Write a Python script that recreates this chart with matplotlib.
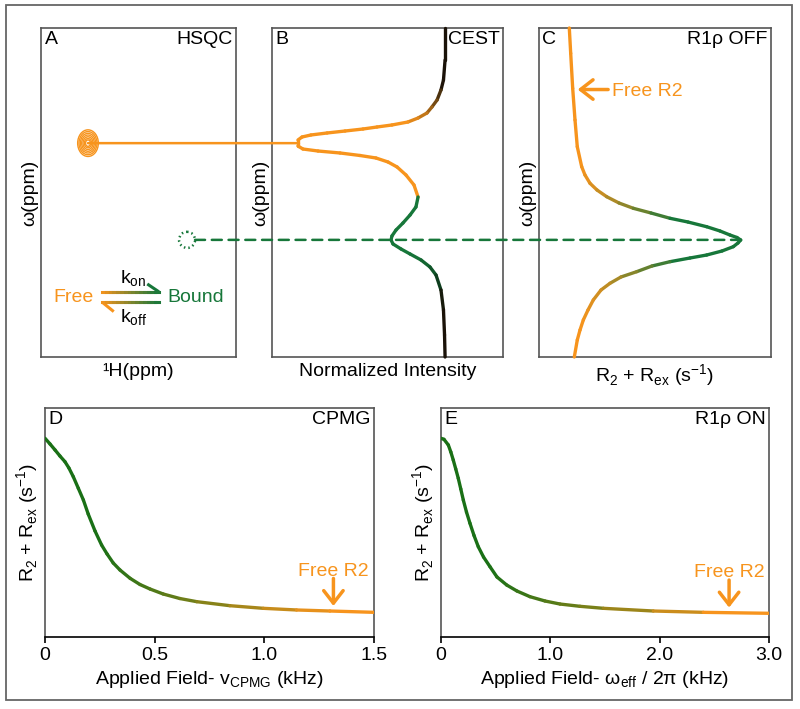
import matplotlib.pyplot as plt
import numpy as np
from matplotlib.collections import LineCollection
from matplotlib.colors import to_rgb
from matplotlib.patches import ConnectionPatch, Ellipse, Rectangle

plt.rcParams['font.family'] = ['Liberation Sans', 'DejaVu Sans']
plt.rcParams['mathtext.fontset'] = 'custom'
plt.rcParams['mathtext.rm'] = 'Liberation Sans'

ORANGE = '#f7941d'
GREEN = '#17773a'
GREEN_DISP = '#1a7016'
BLACK = '#1a1208'
FRAME = '#555555'
FS = 14

# peak positions in the HSQC (1H ppm, omega ppm), arbitrary scale
free_peak = (2.41, 3.50)
bound_peak = (7.49, 6.44)

# panel B - CEST profile (omega, normalized intensity)
cest_omega = [0.0, 0.973, 1.581, 1.884, 2.188, 2.401, 2.584, 2.736, 2.857, 2.948, 3.009, 3.070,
              3.131, 3.191, 3.252, 3.313, 3.404, 3.495, 3.587, 3.678, 3.739, 3.799, 3.875, 3.951,
              4.073, 4.225, 4.468, 4.772, 5.137, 5.441, 5.684, 5.927, 6.140, 6.322, 6.444, 6.565,
              6.717, 6.869, 7.052, 7.264, 7.508, 7.964, 8.571, 9.331, 10.0]
cest_intensity = [0.974, 0.974, 0.965, 0.951, 0.929, 0.900, 0.872, 0.822, 0.765, 0.675, 0.591, 0.512,
                  0.411, 0.310, 0.219, 0.169, 0.146, 0.146, 0.146, 0.174, 0.259, 0.383, 0.495, 0.585,
                  0.653, 0.704, 0.754, 0.799, 0.822, 0.810, 0.777, 0.737, 0.698, 0.675, 0.670, 0.681,
                  0.726, 0.777, 0.839, 0.889, 0.923, 0.951, 0.965, 0.971, 0.974]

# panel C - off-resonance R1rho profile (omega, R2 + Rex)
r1rho_off_omega = [0.0, 0.769, 1.833, 2.796, 3.608, 4.216, 4.468, 4.720, 4.924, 5.128, 5.319, 5.480,
                   5.623, 5.784, 5.897, 6.040, 6.170, 6.292, 6.368, 6.444, 6.535, 6.647, 6.778, 6.900,
                   6.991, 7.103, 7.234, 7.407, 7.568, 7.760, 7.964, 8.267, 8.571, 8.875, 9.179, 9.483,
                   10.0]
r1rho_off_rate = [6.53, 6.83, 7.26, 7.76, 8.25, 9.20, 9.91, 10.99, 12.50, 14.59, 17.24, 20.32,
                  24.14, 28.23, 32.11, 36.14, 39.01, 41.16, 42.67, 43.47, 42.88, 41.87, 39.44, 36.14,
                  32.54, 28.23, 24.35, 21.05, 17.67, 15.30, 13.36, 11.70, 10.56, 9.55, 8.84, 8.25,
                  7.61]

# panel D - CPMG dispersion (kHz, R2 + Rex)
cpmg_field = [0.0, 0.023, 0.046, 0.068, 0.091, 0.109, 0.129, 0.152, 0.175, 0.197, 0.228, 0.258,
              0.283, 0.311, 0.342, 0.388, 0.433, 0.479, 0.539, 0.615, 0.692, 0.843, 0.995, 1.147,
              1.299, 1.500]
cpmg_rate = [34.71, 33.71, 32.66, 31.62, 30.62, 29.52, 28.00, 25.97, 23.93, 21.48, 18.52, 16.07,
             14.50, 12.93, 11.70, 10.25, 9.17, 8.38, 7.51, 6.72, 6.17, 5.47, 5.01, 4.72,
             4.54, 4.31]

# panel E - on-resonance R1rho dispersion (kHz, R2 + Rex)
r1rho_on_field = [0.0, 0.027, 0.067, 0.090, 0.112, 0.135, 0.158, 0.181, 0.204, 0.233, 0.265, 0.302,
                  0.341, 0.389, 0.448, 0.512, 0.601, 0.695, 0.814, 0.951, 1.088, 1.271, 1.485, 1.942,
                  2.399, 3.000]
r1rho_on_rate = [34.71, 34.53, 33.54, 32.31, 30.92, 29.34, 27.72, 25.85, 23.93, 21.83, 19.86, 17.73,
                 15.77, 13.97, 12.28, 10.48, 9.08, 8.03, 7.04, 6.29, 5.76, 5.36, 5.01, 4.54,
                 4.31, 4.14]

cpmg_ticks = [0, 0.5, 1.0, 1.5]
cpmg_ticklabels = ['0', '0.5', '1.0', '1.5']
on_ticks = [0, 1.0, 2.0, 3.0]
on_ticklabels = ['0', '1.0', '2.0', '3.0']

free_r2_off = (8.34, 1.87)   # where the "Free R2" arrow points in panel C
free_r2_cpmg = 1.315         # field of the "Free R2" arrow in panel D
free_r2_on = 2.635           # field of the "Free R2" arrow in panel E


def blend(stops, values):
    # piecewise linear colour along a list of (value, colour) stops
    pos = [s[0] for s in stops]
    rgb = np.array([to_rgb(s[1]) for s in stops])
    return np.column_stack([np.interp(values, pos, rgb[:, k]) for k in range(3)])


def gradient_line(ax, x, y, colors, lw=2.3, clip=True, cap='round'):
    pts = np.column_stack([x, y])
    segs = np.stack([pts[:-1], pts[1:]], axis=1)
    lc = LineCollection(segs, colors=colors, linewidths=lw, capstyle=cap,
                        joinstyle='round', clip_on=clip, zorder=3)
    ax.add_collection(lc)
    return lc


def midpoints(v):
    v = np.asarray(v)
    return (v[:-1] + v[1:]) / 2


def frame(ax, color=FRAME):
    for sp in ax.spines.values():
        sp.set_color(color)
        sp.set_linewidth(1.2)


def corner_text(ax, letter, title):
    ax.annotate(letter, xy=(0, 1), xycoords='axes fraction', xytext=(2.5, -2.5),
                textcoords='offset points', ha='left', va='top', fontsize=FS)
    ax.annotate(title, xy=(1, 1), xycoords='axes fraction', xytext=(-2.5, -2.5),
                textcoords='offset points', ha='right', va='top', fontsize=FS)


fig = plt.figure(figsize=(8, 7.09), dpi=100)
W, H = 800, 709


def place(x0, x1, y0, y1):
    return fig.add_axes([x0 / W, 1 - y1 / H, (x1 - x0) / W, (y1 - y0) / H])


axA = place(41, 236, 28, 357)
axB = place(272, 503, 28, 357)
axC = place(539, 771, 28, 357)
axD = place(45, 374, 408, 637)
axE = place(441, 769, 408, 637)

for ax in (axA, axB, axC):
    ax.set_ylim(10, 0)
    ax.set_xticks([])
    ax.set_yticks([])
    frame(ax)
    ax.set_ylabel('ω(ppm)', fontsize=FS, labelpad=2)

# ---- A: HSQC
axA.set_xlim(0, 10)
for s in [1.0, 0.87, 0.74, 0.61, 0.48, 0.35, 0.24]:
    axA.add_patch(Ellipse(free_peak, 1.06 * s, 0.81 * s, fill=False, ec=ORANGE, lw=1.0))
axA.add_patch(Ellipse(bound_peak, 0.82, 0.49, fill=False, ec=GREEN, lw=1.8, ls=(0, (0.6, 1.2))))
axA.set_xlabel('¹H(ppm)', fontsize=FS, labelpad=4)
corner_text(axA, 'A', 'HSQC')

# exchange scheme Free <-> Bound
scheme_x = np.linspace(3.13, 6.05, 16)
for yy in (8.02, 8.33):
    gradient_line(axA, scheme_x, np.full_like(scheme_x, yy),
                  blend([(3.13, ORANGE), (6.05, GREEN)], midpoints(scheme_x)), lw=2.2,
                  cap='projecting')
axA.plot([6.05, 5.45], [8.02, 7.78], color=GREEN, lw=2.2, solid_capstyle='butt')
axA.plot([3.13, 3.73], [8.33, 8.62], color=ORANGE, lw=2.2, solid_capstyle='butt')
axA.text(1.69, 8.18, 'Free', color=ORANGE, fontsize=FS, ha='center', va='center')
axA.text(6.46, 8.18, 'Bound', color=GREEN, fontsize=FS, ha='left', va='center')
axA.text(4.05, 7.62, 'k$_{\\mathregular{on}}$', fontsize=FS, ha='left', va='center')
axA.text(4.05, 8.80, 'k$_{\\mathregular{off}}$', fontsize=FS, ha='left', va='center')

# ---- B: CEST
axB.set_xlim(0, 1.3)
cest_stops = [(0, BLACK), (1.7, BLACK), (2.25, '#6a4512'), (2.9, ORANGE), (5.12, ORANGE),
              (5.2, GREEN), (6.9, GREEN), (7.7, '#0c3f1e'), (8.4, BLACK), (10, BLACK)]
gradient_line(axB, cest_intensity, cest_omega, blend(cest_stops, midpoints(cest_omega)),
              lw=2.4, clip=False)
axB.set_xlabel('Normalized Intensity', fontsize=FS, labelpad=4)
corner_text(axB, 'B', 'CEST')

# ---- C: off-resonance R1rho
axC.set_xlim(0, 50)
gradient_line(axC, r1rho_off_rate, r1rho_off_omega,
              blend([(9, ORANGE), (30, GREEN)], midpoints(r1rho_off_rate)), lw=2.4, clip=False)
axC.annotate('', xy=free_r2_off, xytext=(14.9, free_r2_off[1]),
             arrowprops=dict(arrowstyle='->,head_length=0.45,head_width=0.35', color=ORANGE,
                             lw=2.5, shrinkA=0, shrinkB=0, mutation_scale=20))
axC.text(15.7, free_r2_off[1], 'Free R2', color=ORANGE, fontsize=FS, ha='left',
         va='center_baseline')
axC.set_xlabel('R$_{\\mathregular{2}}$ + R$_{\\mathregular{ex}}$ (s$^{\\mathregular{-1}}$)',
               fontsize=FS, labelpad=4)
corner_text(axC, 'C', 'R1ρ OFF')

# connecting lines between panels
fig.add_artist(ConnectionPatch(xyA=free_peak, coordsA=axA.transData,
                               xyB=(min(cest_intensity), free_peak[1]), coordsB=axB.transData,
                               color=ORANGE, lw=1.8, zorder=5))
fig.add_artist(ConnectionPatch(xyA=(bound_peak[0] + 0.41, bound_peak[1]), coordsA=axA.transData,
                               xyB=(max(r1rho_off_rate), bound_peak[1]), coordsB=axC.transData,
                               color=GREEN, lw=1.8, ls=(0, (4, 2.7)), zorder=5))


# ---- D / E: dispersion curves
def dispersion(ax, field, rate, ticks, ticklabels, stops, arrow_x, xlabel, letter, title):
    ax.set_xlim(ticks[0], ticks[-1])
    ax.set_ylim(0, 40)
    frame(ax)
    ax.spines['bottom'].set_color('black')
    ax.set_yticks([])
    ax.set_xticks(ticks)
    ax.set_xticklabels(ticklabels)
    ax.tick_params(axis='x', direction='out', length=4, width=1.2, labelsize=FS, pad=3)
    gradient_line(ax, field, rate, blend(stops, midpoints(field)), lw=2.4)
    base = np.interp(arrow_x, field, rate)
    ax.annotate('', xy=(arrow_x, base + 0.9), xytext=(arrow_x, base + 5.7),
                arrowprops=dict(arrowstyle='->,head_length=0.45,head_width=0.35', color=ORANGE,
                                lw=2.5, shrinkA=0, shrinkB=0, mutation_scale=20))
    ax.text(arrow_x, base + 6.2, 'Free R2', color=ORANGE, fontsize=FS, ha='center', va='baseline')
    ax.set_xlabel(xlabel, fontsize=FS, labelpad=4)
    ax.set_ylabel('R$_{\\mathregular{2}}$ + R$_{\\mathregular{ex}}$ (s$^{\\mathregular{-1}}$)',
                  fontsize=FS, labelpad=3)
    corner_text(ax, letter, title)


dispersion(axD, cpmg_field, cpmg_rate, cpmg_ticks, cpmg_ticklabels,
           [(0.25, GREEN_DISP), (1.3, ORANGE)], free_r2_cpmg,
           'Applied Field- v$_{\\mathregular{CPMG}}$ (kHz)', 'D', 'CPMG')
dispersion(axE, r1rho_on_field, r1rho_on_rate, on_ticks, on_ticklabels,
           [(0.45, GREEN_DISP), (2.6, ORANGE)], free_r2_on,
           'Applied Field- ω$_{\\mathregular{eff}}$ / 2π (kHz)', 'E', 'R1ρ ON')

# outer frame around the whole figure
fig.add_artist(Rectangle((6 / W, 1 - 700 / H), 786 / W, 695 / H, transform=fig.transFigure,
                         fill=False, ec='#666666', lw=1.3))

fig.savefig('out.png', dpi=100)
